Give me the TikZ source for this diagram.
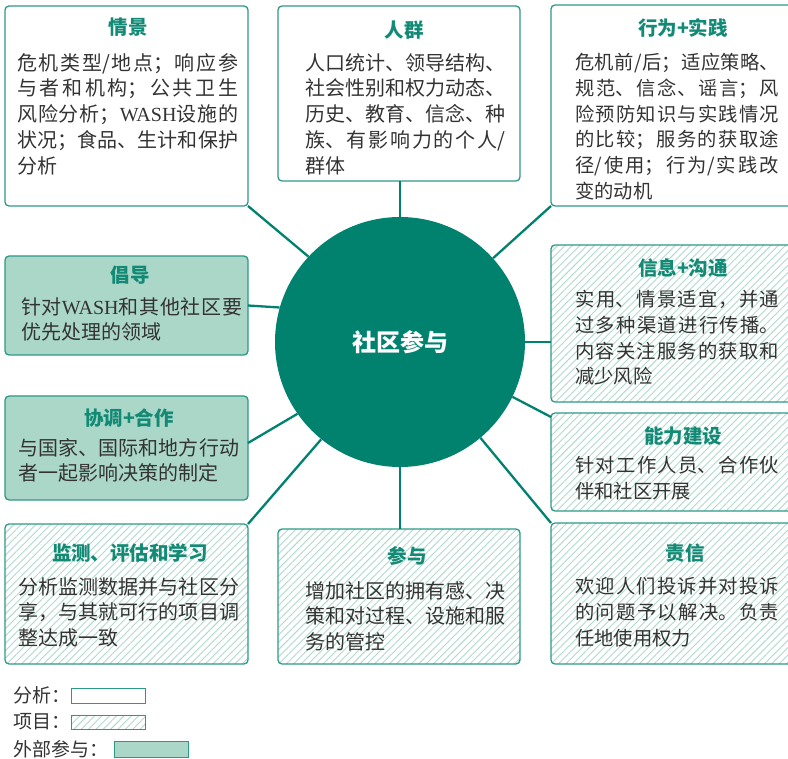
\documentclass[tikz,border=0pt]{standalone}
\usepackage{fontspec}
\setmainfont{Noto Sans CJK SC}
\newfontfamily\latinserif{Liberation Serif}
\usetikzlibrary{patterns.meta}
\XeTeXlinebreaklocale "zh"
\XeTeXlinebreakskip=0pt plus 6pt
\definecolor{tealdark}{HTML}{00826F}
\definecolor{boxline}{HTML}{2C9885}
\definecolor{titlecol}{HTML}{138A75}
\definecolor{fillcol}{HTML}{ABD7C8}
\definecolor{hatchcol}{HTML}{AFD9CC}
\definecolor{txt}{HTML}{333333}
\newcommand{\wash}{{\latinserif WASH}}
\newcommand{\brk}{\linebreak}
\begin{document}
\begin{tikzpicture}[x=1pt,y=-1pt,
  box/.style={draw=boxline, line width=1.3pt, rounded corners=4pt, anchor=north west, inner sep=0pt, outer sep=0pt},
  filled/.style={fill=fillcol},
  hatch/.style={pattern={Lines[angle=45,distance=5.2pt,line width=0.9pt]}, pattern color=hatchcol},
  ttl/.style={text=titlecol, font=\fontsize{19.5}{23}\selectfont\bfseries, inner sep=0pt},
  body/.style={text=txt, font=\fontsize{20}{25.8}\selectfont, align=justify, anchor=north west, inner sep=0pt},
  bodyr/.style={body, font=\fontsize{19.3}{25.8}\selectfont, text width=204pt},
  circ/.style={circle, fill=tealdark, minimum size=250pt, inner sep=0pt, text=white, font=\fontsize{24}{28}\selectfont\bfseries},
  conn/.style={draw=tealdark, line width=2.3pt},
  leg/.style={text=txt, font=\fontsize{19}{22}\selectfont, anchor=west, inner sep=0pt},
  legbox/.style={draw=boxline, line width=1.3pt, anchor=north west, inner sep=0pt}
]
\tolerance=10000 \pretolerance=10000
\useasboundingbox (0,0) rectangle (788,759);

% boxes
\node[box, minimum width=243pt, minimum height=200pt] (b1) at (5,6) {};
\node[box, minimum width=242pt, minimum height=175pt] (b2) at (278,6) {};
\node[box, minimum width=243pt, minimum height=201pt] (b3) at (551,5) {};
\node[box, filled, minimum width=243pt, minimum height=99pt] (b4) at (5,256) {};
\node[box, filled, minimum width=243pt, minimum height=104pt] (b5) at (5,396) {};
\node[box, hatch, minimum width=243pt, minimum height=157pt] (b6) at (551,245) {};
\node[box, hatch, minimum width=243pt, minimum height=98pt] (b7) at (551,413) {};
\node[box, hatch, minimum width=243pt, minimum height=140pt] (b8) at (5,524) {};
\node[box, hatch, minimum width=242pt, minimum height=135pt] (b9) at (278,529) {};
\node[box, hatch, minimum width=243pt, minimum height=141pt] (b10) at (551,523) {};

% titles
\node[ttl] (t1) at (128,27.5) {情景};
\node[ttl] (t2) at (404,30) {人群};
\node[ttl] (t3) at (683,28) {行为+实践};
\node[ttl] (t4) at (130,275) {倡导};
\node[ttl] (t5) at (129,418) {协调+合作};
\node[ttl] (t6) at (683,268) {信息+沟通};
\node[ttl] (t7) at (683,436) {能力建设};
\node[ttl] (t8) at (130,553) {监测、评估和学习};
\node[ttl] (t9) at (407,556) {参与};
\node[ttl] (t10) at (685,553) {责信};

% bodies
\node[body, text width=221pt] (x1) at (17,53) {危机类型/地点；响应参\brk 与者和机构；公共卫生\brk 风险分析；\wash 设施的\brk 状况；食品、生计和保护\brk 分析};
\node[body, text width=200pt] (x2) at (305,53) {人口统计、领导结构、\brk 社会性别和权力动态、\brk 历史、教育、信念、种\brk 族、有影响力的个人/\brk 群体};
\node[bodyr] (x3) at (575,53) {危机前/后；适应策略、\brk 规范、信念、谣言；风\brk 险预防知识与实践情况\brk 的比较；服务的获取途\brk 径/使用；行为/实践改\brk 变的动机};
\node[body, text width=221pt] (x4) at (21,297) {针对\wash 和其他社区要\brk 优先处理的领域};
\node[body, text width=221pt] (x5) at (18,438) {与国家、国际和地方行动\brk 者一起影响决策的制定};
\node[bodyr] (x6) at (575,290) {实用、情景适宜，并通\brk 过多种渠道进行传播。\brk 内容关注服务的获取和\brk 减少风险};
\node[bodyr] (x7) at (575,456) {针对工作人员、合作伙\brk 伴和社区开展};
\node[body, text width=221pt] (x8) at (18,577) {分析监测数据并与社区分\brk 享，与其就可行的项目调\brk 整达成一致};
\node[body, text width=200pt] (x9) at (305,581) {增加社区的拥有感、决\brk 策和对过程、设施和服\brk 务的管控};
\node[bodyr] (x10) at (575,577) {欢迎人们投诉并对投诉\brk 的问题予以解决。负责\brk 任地使用权力};

% centre
\node[circ] (c) at (400,342) {社区参与};

% connectors
\draw[conn] (c.137) -- (b1.south east);
\draw[conn] (c.north) -- (c.north |- b2.south);
\draw[conn] (c.42) -- (b3.south west);
\draw[conn] (c.164) -- (b4.east);
\draw[conn] (c.east) -- (c.east -| b6.west);
\draw[conn] (c.334) -- ([yshift=-4pt]b7.north west);
\draw[conn] (c.215) -- ([yshift=5pt]b5.east);
\draw[conn] (c.231.5) -- (b8.north east);
\draw[conn] (c.south) -- (c.south |- b9.north);
\draw[conn] (c.310) -- (b10.north west);

% legend
\node[leg] (lg1) at (13,695.5) {分析：};
\node[legbox, minimum width=74pt, minimum height=15pt] (lb1) at (71,688) {};
\node[leg] (lg2) at (13,722) {项目：};
\node[legbox, hatch, minimum width=74pt, minimum height=14pt] (lb2) at (71,715) {};
\node[leg] (lg3) at (13,749) {外部参与：};
\node[legbox, filled, minimum width=74pt, minimum height=16pt] (lb3) at (114,741) {};
\end{tikzpicture}
\end{document}
